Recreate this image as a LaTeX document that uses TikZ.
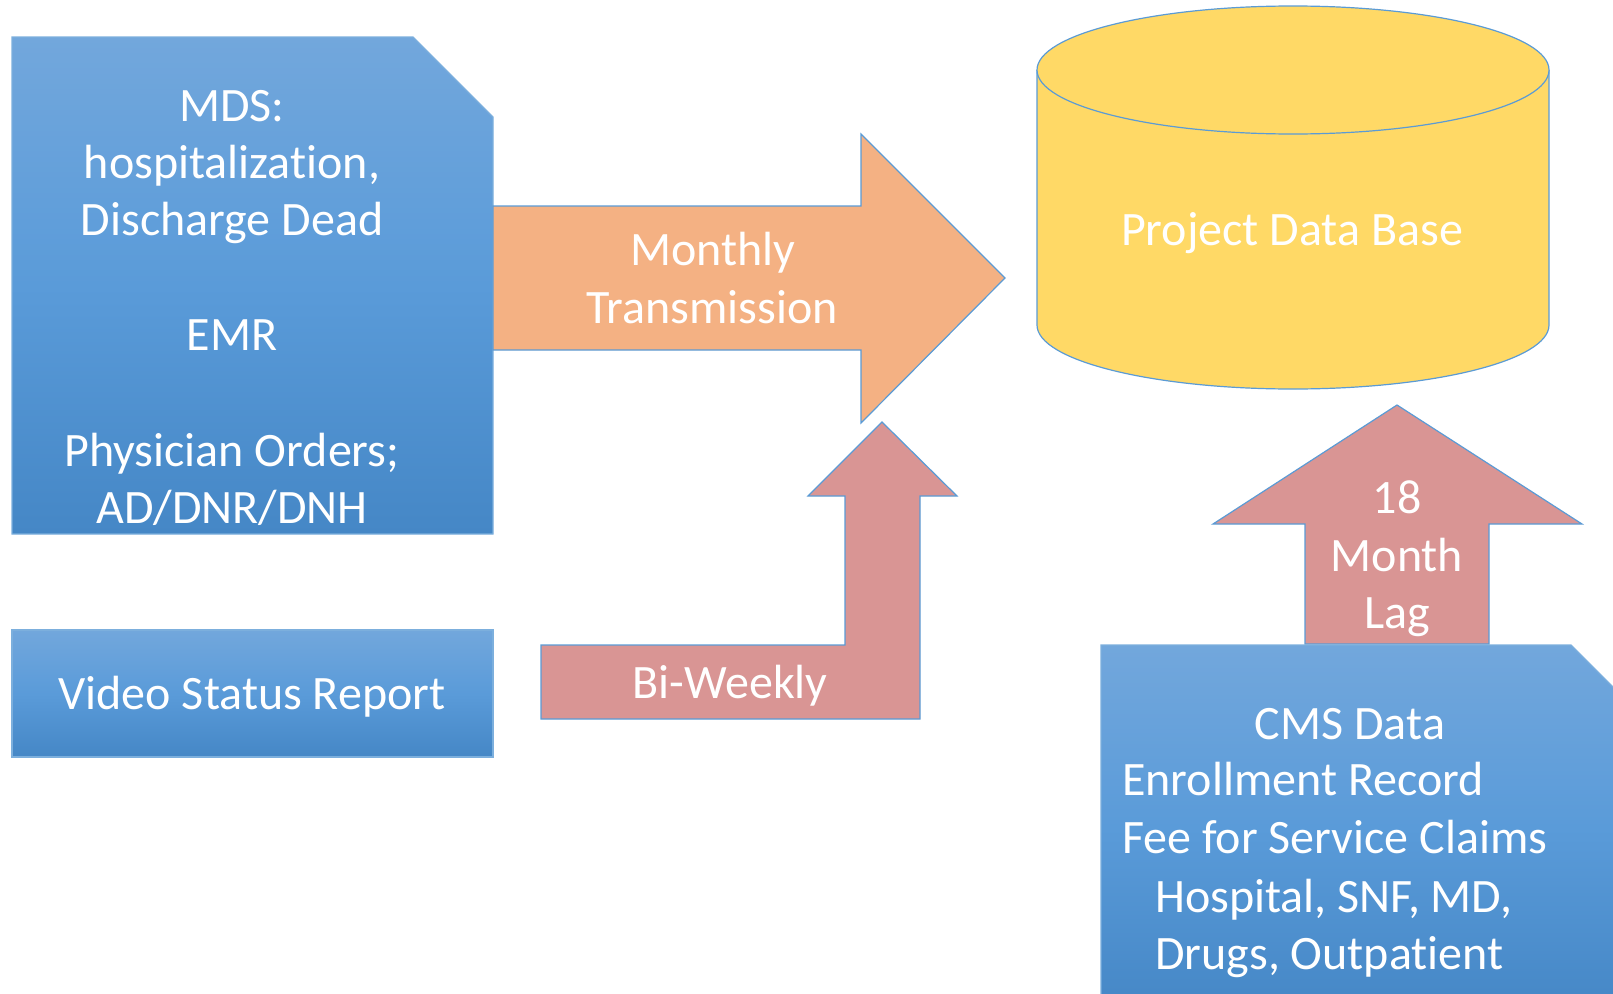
\documentclass[tikz,border=0pt]{standalone}
\usepackage{fontspec}
\setmainfont{Carlito}[Ligatures={NoCommon,NoContextual}, RawFeature={-liga;-calt;-clig;-dlig}]
\newcommand{\tix}{t\kern0pt i}
\definecolor{edgeblue}{HTML}{5B9BD5}
\definecolor{boxtop}{HTML}{72A7DC}
\definecolor{boxmid}{HTML}{5A9BD9}
\definecolor{boxbot}{HTML}{4587C6}
\definecolor{orangeA}{HTML}{F4B183}
\definecolor{pinkA}{HTML}{D99594}
\definecolor{yellowA}{HTML}{FFD966}
\begin{document}
\begin{tikzpicture}[x=1pt,y=-1pt,
  outl/.style={draw=edgeblue, line width=1.2pt, line join=miter},
  bluebox/.style={draw=edgeblue!80!white, line width=1.2pt, top color=boxtop, bottom color=boxbot, middle color=boxmid},
  txt/.style={text=white, font=\fontsize{48}{57.6}\selectfont, inner sep=0pt, text height=31pt, text depth=0pt},
]
\useasboundingbox (0,0) rectangle (1613,993);
\clip (0,0) rectangle (1613,993);

% left source box
\path[bluebox] (12,37) -- (413,37) -- (493,117) -- (493,534) -- (12,534) -- cycle;
% monthly arrow
\path[outl, fill=orangeA] (493,206) -- (861,206) -- (861,134) -- (1005,278) -- (861,423) -- (861,350) -- (493,350) -- cycle;
% video status box
\path[bluebox] (12,630) rectangle (493,757);
% bi-weekly arrow
\path[outl, fill=pinkA] (541,645) -- (845,645) -- (845,496) -- (808,496) -- (882,422) -- (957,496) -- (920,496) -- (920,719) -- (541,719) -- cycle;
% database cylinder
\fill[yellowA] (1037,70) -- (1037,325) .. controls (1037,360.35) and (1151.6,389) .. (1293,389)
  .. controls (1434.4,389) and (1549,360.35) .. (1549,325) -- (1549,70) -- cycle;
\draw[outl] (1037,70) -- (1037,325) .. controls (1037,360.35) and (1151.6,389) .. (1293,389)
  .. controls (1434.4,389) and (1549,360.35) .. (1549,325) -- (1549,70);
\path[outl, fill=yellowA] (1293,70) ellipse [x radius=256, y radius=64];
% 18 month arrow
\path[outl, fill=pinkA] (1305,644) -- (1305,524) -- (1213,524) -- (1397,405) -- (1582,524) -- (1489,524) -- (1489,644) -- cycle;
% CMS box
\path[bluebox] (1101,645) -- (1571,645) -- (1680,754) -- (1680,1010) -- (1101,1010) -- cycle;

% texts
\node[txt] (mds)  at (232,106) {MDS:};
\node[txt] (hosp) at (232,163) {hospitaliza\tix on,};
\node[txt] (dis)  at (232,220) {Discharge Dead};
\node[txt] (emr)  at (232,335) {EMR};
\node[txt] (phy)  at (232,451) {Physician Orders;};
\node[txt] (ad)   at (232,508) {AD/DNR/DNH};

\node[txt] (mon)  at (713,250) {Monthly};
\node[txt] (tra)  at (712,308) {Transmission};

\node[txt] (vsr)  at (252,694) {Video Status Report};
\node[txt] (biw)  at (730,683) {Bi-Weekly};

\node[txt] (pdb)  at (1292,230) {Project Data Base};

\node[txt] (l18)  at (1397,498) {18};
\node[txt] (lmo)  at (1397,556) {Month};
\node[txt] (llag) at (1397,613) {Lag};

\node[txt] (cms)  at (1350,724) {CMS Data};
\node[txt, anchor=west] (enr) at (1122,780) {Enrollment Record};
\node[txt, anchor=west] (fee) at (1122,838) {Fee for Service Claims};
\node[txt, anchor=west] (hsp) at (1155,897) {Hospital, SNF, MD,};
\node[txt, anchor=west] (drg) at (1155,954) {Drugs, Outpa\tix ent};
\end{tikzpicture}
\end{document}
